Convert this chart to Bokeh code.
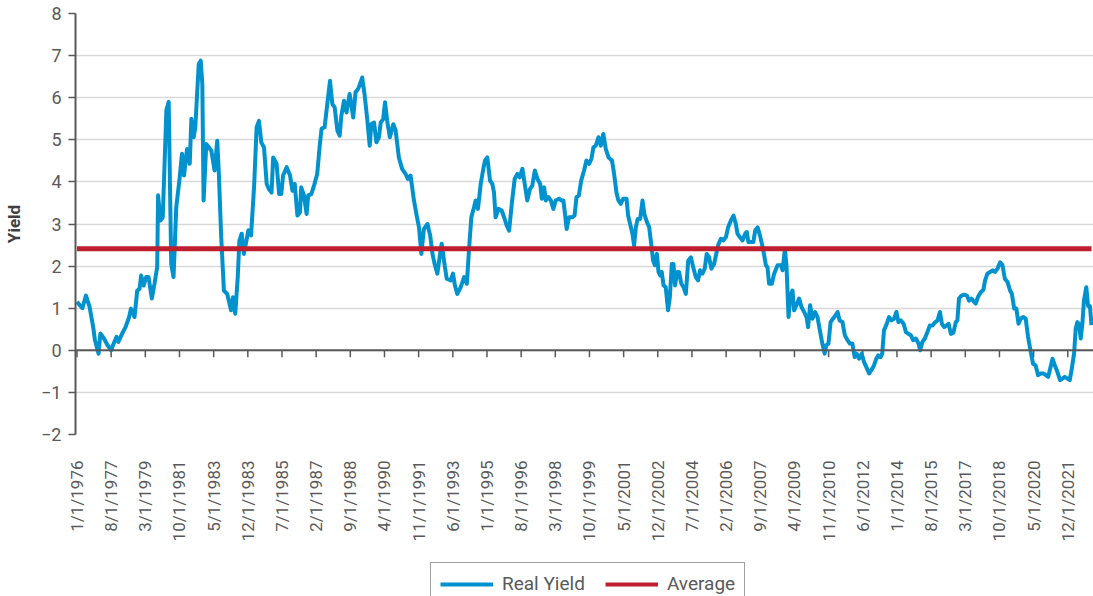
import math
from bokeh.plotting import figure
from bokeh.layouts import column
from bokeh.models import FixedTicker, Legend, LegendItem, Range1d, Span
from bokeh.embed import file_html
from bokeh.resources import INLINE

# ---------------- data ----------------
tick_labels = ["1/1/1976", "8/1/1977", "3/1/1979", "10/1/1981", "5/1/1983", "12/1/1983",
               "7/1/1985", "2/1/1987", "9/1/1988", "4/1/1990", "11/1/1991", "6/1/1993",
               "1/1/1995", "8/1/1996", "3/1/1998", "10/1/1999", "5/1/2001", "12/1/2002",
               "7/1/2004", "2/1/2006", "9/1/2007", "4/1/2009", "11/1/2010", "6/1/2012",
               "1/1/2014", "8/1/2015", "3/1/2017", "10/1/2018", "5/1/2020", "12/1/2021"]
label_every = 19  # observations between labelled categories

month_index = [
    0, 3, 5, 7, 9, 10, 12, 13, 15, 17, 19, 20, 22, 23, 25.5, 27, 29, 30, 32, 33.5,
    34.8, 35.7, 37.1, 38.5, 39.8, 41.6, 43.1, 44.6, 45.1, 46.4, 47.7, 49.7, 51, 52.4, 53.7,
    55.2, 57.1, 58.4, 59.5, 61.2, 62.7, 63.6, 64.9, 65.8, 67.7, 68.8, 69.7, 70.4, 71.9,
    74.7, 76.5, 78, 78.9, 80.2, 81.7, 83.5, 85.7, 86.7, 88, 89.4, 90.3, 91.6, 92.8, 93.9,
    95.3, 96.8,
    98.5, 99.9, 101.2, 102.5, 104, 105.5, 106.7, 108.2, 109.1, 111, 112.4, 113.6, 114.6,
    116.6, 118.5, 119.8, 121.1, 122.6, 124, 124.7, 126.2, 127.7, 128.6, 130.3, 131.8,
    133.6, 134.9, 136, 137.7, 139.2, 140.7, 142, 143.3, 144.8, 146.1, 147, 148.5, 149.9,
    151.6, 152.5, 153.6, 154.9, 156.4, 157.7, 158.6, 159.9, 161.5, 162.8, 163.7, 165.2,
    166.5, 167.9, 168.9, 170.3, 171.3, 172.5, 174, 175.9, 177.2, 179, 180.8, 182.7, 184,
    185.5, 187.4, 188.9, 190.2, 191.5, 192.9,
    194.9, 196.4, 197.7, 198.9, 200.4, 201.9, 202.8, 204.1, 205.6, 207.8, 209.1, 210.2,
    211.5, 213.4, 215.3, 216.8, 218.1, 219.3, 220.8, 221.7, 223, 224.5, 225.8, 226.9,
    228.2, 229.7, 231, 231.9, 232.8, 234.4, 236.2, 237.5, 239, 240.3, 241.8, 243.4, 244.9,
    246.2, 247.7, 249, 250.4, 251.9, 253.2, 254.6, 256.1, 257.6, 258.5, 259.8, 260.7,
    262.2, 263.5, 264.9, 266.2, 268.1, 269.4, 270.5, 271.4, 272.3, 273.6, 275.4, 276.7,
    277.8, 279.1, 280.4, 282, 283.3, 284.8, 286.1, 287.2,
    288.5, 290, 291.3, 292.7, 294.1, 295.6, 297.5, 298.7, 300, 301.1, 302.4, 303.7, 305.6,
    306.5, 307.6, 308.9, 309.8, 310.8, 311.8, 313.2, 314.5, 315.5, 316.7, 318.2, 319.1,
    320.4, 321.4, 322.5, 323.4, 324.3, 325.2, 326.2, 327.4, 328.7, 329.7, 330.8, 331.7,
    332.6, 333.9, 334.8, 336.1, 337.3, 338.6, 339.9, 341.4, 342.7, 344.1, 345.4, 346.5,
    347.8, 349.1, 350.2, 351.5, 352.8, 354.3, 355.7, 356.8, 358.1, 359.4, 360.9, 362.1,
    363.6, 365.1, 366.4, 367.3, 368.6, 370.1, 371.6, 372.5, 373.4, 374.8, 376.1, 377.2,
    378.5, 379.8, 381.3, 382.2, 383.1, 384, 384.9, 386.4, 387.7, 389.6,
    391.5, 392.4, 393.7, 394.6, 395.7, 396.6, 397.9, 398.8, 400.1, 401.6, 402.9, 404.4,
    405.7, 406.6, 407.7, 409, 410.5, 411.8, 413.1, 414.5, 415.8, 416.7, 417.9, 419.1,
    420.4, 421.9, 423, 424.1, 425.7, 427, 428.5, 429.8, 431.2, 432.5, 433.6, 434.9, 436.4,
    437.7, 439, 440.5, 441.8, 443.2, 444.5, 445.6, 446.9, 447.8, 448.8, 450, 451.6, 452.9,
    454.4, 455.7, 456.8, 458.2, 459.7, 461, 462.4, 463.7, 465, 466.5, 468, 468.9, 470.2,
    471.5, 472.9, 474.3, 475.8, 477.3, 478.6, 479.9, 481, 482.3, 483.6, 484.7, 486,
    487.4, 488.7, 489.6, 490.5, 491.9, 493.4, 494.9, 496.1, 497.4, 498.9, 499.8, 501.1,
    502.6, 504.1, 505, 506.3, 507.8, 509.2, 510.5, 511.9, 513.4, 514.7, 516, 517.5, 518.9,
    519.9, 521.2, 522.4, 523.6, 524.8, 526.3, 527.6, 528.9, 530.4, 531.7, 533.1, 534.5,
    536, 537.5, 538.8, 540.1, 541.2, 542.5, 543.8, 545.2, 546.7, 548, 549.3, 550.8, 552.1,
    553.2, 554.5, 555.4, 556.3, 557.2, 558.2, 559.1, 560, 561.3, 562.3, 563.3, 564.2,
]
real_yield = [
    1.15, 1.0, 1.3, 1.03, 0.55, 0.24, -0.08, 0.4, 0.28, 0.12, 0.0, 0.12, 0.32, 0.2, 0.43,
    0.55, 0.79, 0.99, 0.79, 1.42, 1.46, 1.78, 1.54, 1.74, 1.74, 1.23, 1.58, 1.98, 3.68, 3.08,
    3.16, 5.7, 5.9, 2.05, 1.74, 3.4, 4.1, 4.67, 4.15, 4.78, 4.43, 5.5, 5.06, 5.3, 6.8, 6.88,
    6.32, 3.56, 4.9, 4.74, 4.27, 4.98, 4.19, 2.69, 1.42, 1.34, 0.95, 1.26, 0.87, 1.74, 2.6,
    2.77, 2.29, 2.53, 2.85, 2.73,
    3.9, 5.3, 5.45, 4.94, 4.82, 3.95, 3.83, 3.75, 4.58, 4.43, 3.71, 3.71, 4.15, 4.35, 4.15,
    3.79, 3.95, 3.2, 3.28, 3.87, 3.68, 3.24, 3.68, 3.71, 3.91, 4.19, 4.82, 5.26, 5.3, 5.85,
    6.4, 5.85, 5.77, 5.22, 5.1, 5.57, 5.93, 5.65, 6.09, 5.85, 5.53, 6.13, 6.21, 6.36, 6.48,
    6.09, 5.45, 4.86, 5.37, 5.41, 4.94, 5.06, 5.41, 5.49, 5.89, 5.45, 5.06, 5.37, 5.22,
    4.58, 4.31, 4.19, 4.07, 4.15, 3.56, 3.2, 2.92, 2.29, 2.88,
    3.0, 2.73, 2.29, 2.05, 1.82, 2.29, 2.53, 2.13, 1.7, 1.66, 1.82, 1.54, 1.34, 1.5, 1.74,
    1.58, 2.45, 3.16, 3.4, 3.56, 3.36, 3.95, 4.27, 4.51, 4.58, 4.03, 3.95, 3.75, 3.16, 3.36,
    3.32, 3.16, 2.96, 2.84, 3.48, 4.07, 4.19, 4.11, 4.31, 3.95, 3.56, 3.83, 3.91, 4.27,
    4.07, 3.95, 3.6, 3.87, 3.56, 3.64, 3.56, 3.36, 3.56, 3.6, 3.56, 3.56, 3.24, 2.88, 3.16,
    3.16, 3.2, 3.64, 3.68, 4.03, 4.27, 4.51, 4.43, 4.55, 4.82,
    4.86, 5.06, 4.86, 5.14, 4.78, 4.58, 4.51, 4.19, 3.75, 3.56, 3.48, 3.6, 3.6, 3.2, 3.0,
    2.77, 2.49, 2.92, 3.12, 3.12, 3.56, 3.24, 3.08, 2.92, 2.61, 2.13, 2.02, 2.29, 1.86,
    1.78, 1.86, 1.54, 1.5, 0.95, 1.26, 2.05, 2.05, 1.54, 1.86, 1.86, 1.58, 1.5, 1.34, 2.13,
    2.21, 1.97, 1.74, 1.66, 1.9, 1.82, 1.94, 2.29, 2.21, 1.94, 2.05, 2.33, 2.53, 2.65, 2.61,
    2.69, 2.92, 3.08, 3.2, 3.0, 2.77, 2.69, 2.61, 2.77, 2.81, 2.57, 2.57, 2.57, 2.85, 2.92,
    2.73, 2.45, 2.25, 2.02, 1.97, 1.58, 1.58, 1.82, 2.02,
    2.02, 1.9, 2.41, 1.98, 0.79, 1.26, 1.42, 0.95, 1.07, 1.23, 1.03, 0.91, 0.79, 0.55, 1.07,
    0.75, 0.91, 0.79, 0.48, 0.16, -0.08, 0.12, 0.16, 0.67, 0.75, 0.83, 0.91, 0.71, 0.67,
    0.36, 0.24, 0.16, 0.16, -0.16, -0.08, -0.2, -0.08, -0.28, -0.4, -0.55, -0.47, -0.36,
    -0.2, -0.12, -0.16, -0.08, 0.48, 0.59, 0.79, 0.71, 0.75, 0.91, 0.67, 0.71, 0.63, 0.43,
    0.39, 0.36, 0.24, 0.28, 0.16, 0.0, 0.2, 0.28, 0.43, 0.59, 0.59, 0.67, 0.71, 0.91, 0.63,
    0.55, 0.59, 0.63, 0.39,
    0.42, 0.67, 0.71, 1.23, 1.3, 1.32, 1.3, 1.18, 1.23, 1.15, 1.11, 1.27, 1.38, 1.44, 1.66,
    1.82, 1.86, 1.9, 1.86, 1.94, 2.09, 2.02, 1.7, 1.62, 1.42, 1.34, 0.99, 0.99, 0.63, 0.75,
    0.79, 0.75, 0.32, -0.04, -0.32, -0.36, -0.59, -0.55, -0.55, -0.59, -0.63, -0.44, -0.2,
    -0.36, -0.51, -0.71, -0.67, -0.63, -0.67, -0.71, -0.44, -0.08, 0.51, 0.67, 0.63, 0.28,
    0.63, 1.18, 1.5, 1.05, 1.05, 0.6,
]
average_yield = 2.41

# ---------------- style ----------------
BLUE = "#0092CF"
RED = "#BE1E2D"
TEXT = "#595959"
AXIS = "#595959"
FONT = "Roboto"

tick_positions = [k * label_every for k in range(len(tick_labels))]
y_ticks = list(range(-2, 9))

p = figure(width=1093, height=552, output_backend="svg", toolbar_location=None,
           x_range=Range1d(-0.83, 565.3), y_range=Range1d(-2, 8),
           min_border_left=75, min_border_right=0, min_border_top=13,
           min_border_bottom=118)
p.outline_line_color = None
p.background_fill_color = "white"
p.border_fill_color = "white"

# grid
p.xgrid.grid_line_color = None
p.ygrid.ticker = FixedTicker(ticks=y_ticks)
p.ygrid.grid_line_color = "#D9D9D9"
p.ygrid.grid_line_width = 1.5

# zero line with downward category tick marks
p.add_layout(Span(location=0, dimension="width", line_color=AXIS, line_width=2))
p.segment(x0=tick_positions, y0=[0] * len(tick_positions),
          x1=tick_positions, y1=[-0.165] * len(tick_positions),
          line_color=AXIS, line_width=1.5)

p.line(month_index, real_yield, line_color=BLUE, line_width=4, line_join="round")
p.line([month_index[0], month_index[-1]], [average_yield, average_yield],
       line_color=RED, line_width=5)

# y axis
yax = p.yaxis[0]
yax.ticker = FixedTicker(ticks=y_ticks)
yax.major_label_overrides = {t: (("\u2212" + str(-t)) if t < 0 else str(t)) for t in y_ticks}
yax.axis_label = "Yield"
yax.axis_label_text_font = FONT
yax.axis_label_text_font_style = "bold"
yax.axis_label_text_font_size = "17px"
yax.axis_label_text_color = "#404040"
yax.axis_label_standoff = 14
yax.major_label_text_font = FONT
yax.major_label_text_font_size = "18px"
yax.major_label_text_color = TEXT
yax.major_label_standoff = 7
yax.axis_line_color = AXIS
yax.axis_line_width = 2
yax.major_tick_line_color = AXIS
yax.major_tick_line_width = 1.5
yax.major_tick_in = 0
yax.major_tick_out = 7
yax.minor_tick_line_color = None

# x axis with category labels (bottom)
xax = p.xaxis[0]
xax.ticker = FixedTicker(ticks=tick_positions)
xax.major_label_overrides = {pos: lab for pos, lab in zip(tick_positions, tick_labels)}
xax.major_label_orientation = math.pi / 2
xax.major_label_text_font = FONT
xax.major_label_text_font_size = "17px"
xax.major_label_text_color = TEXT
xax.major_label_standoff = 20
xax.axis_line_color = None
xax.major_tick_line_color = None
xax.minor_tick_line_color = None

# ---------------- legend strip below the chart ----------------
leg = figure(width=1093, height=44, output_backend="svg", toolbar_location=None,
             x_range=Range1d(-20, -10), y_range=Range1d(-20, -10),
             x_axis_location=None, y_axis_location=None,
             min_border_left=0, min_border_right=0, min_border_top=0, min_border_bottom=0)
leg.outline_line_color = None
leg.xgrid.visible = False
leg.ygrid.visible = False
leg_yield = leg.line(month_index, real_yield, line_color=BLUE, line_width=4)
leg_avg = leg.line([month_index[0], month_index[-1]], [average_yield, average_yield],
                   line_color=RED, line_width=4)
legend = Legend(items=[LegendItem(label="Real Yield", renderers=[leg_yield]),
                       LegendItem(label="Average", renderers=[leg_avg])],
                orientation="horizontal", location=(355, -9),
                border_line_color="#404040", border_line_width=1,
                label_text_font=FONT, label_text_font_size="19px",
                label_text_color=TEXT, glyph_width=53, glyph_height=20,
                label_standoff=9, spacing=20, padding=9, margin=0)
leg.add_layout(legend)

layout = column(p, leg, spacing=0)
open("out.html", "w").write(file_html(layout, INLINE))
